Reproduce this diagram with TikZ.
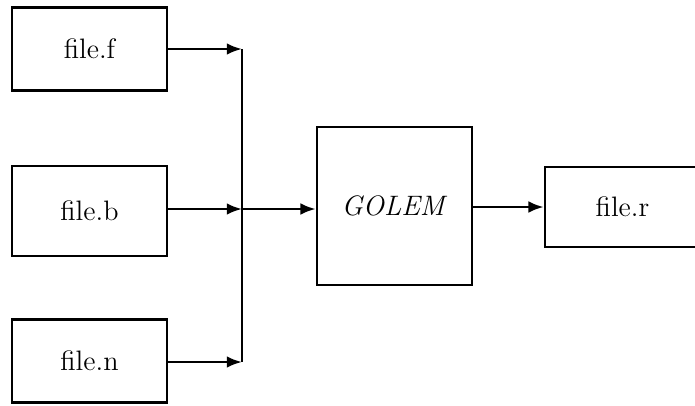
\documentclass[tikz,border=0pt]{standalone}
\usepackage{amsmath}
\usepackage{tikz}
\usetikzlibrary{arrows.meta}

\begin{document}
\begin{tikzpicture}[x=0.015cm,y=-0.015cm]
\tikzstyle{every node}+=[inner sep=0pt,font=\large]
\tikzstyle{filebox}=[draw=black,line width=1.1pt,minimum width=2.325cm,minimum height=1.25cm]
\tikzstyle{flow}=[draw=black,line width=1.1pt,-{Latex[length=6.5pt,width=5pt]}]
\useasboundingbox (0,0) rectangle (695,405);
\node [filebox] (ff) at (89.5,49) {file.f};
\node [filebox,minimum height=1.35cm] (fb) at (89.5,211) {file.b};
\node [filebox] (fn) at (89.5,361) {file.n};
\node [filebox,minimum height=2.37cm] (golem) at (394.5,206) {\textit{GOLEM}};
\node [filebox,minimum height=1.2cm] (fr) at (622.5,207) {file.r};
\coordinate (jt) at (242,49);
\coordinate (jm) at (242,209);
\coordinate (jb) at (242,362);
\draw [flow] (ff.east |- jt) -- (jt);
\draw [flow] (fb.east |- jm) -- (jm);
\draw [flow] (fn.east |- jb) -- (jb);
\draw [black,line width=1.1pt] (jt) -- (jb);
\draw [flow] (jm) -- (golem.west |- jm);
\draw [flow] (golem.east |- fr) -- (fr.west);
\end{tikzpicture}
\end{document}
